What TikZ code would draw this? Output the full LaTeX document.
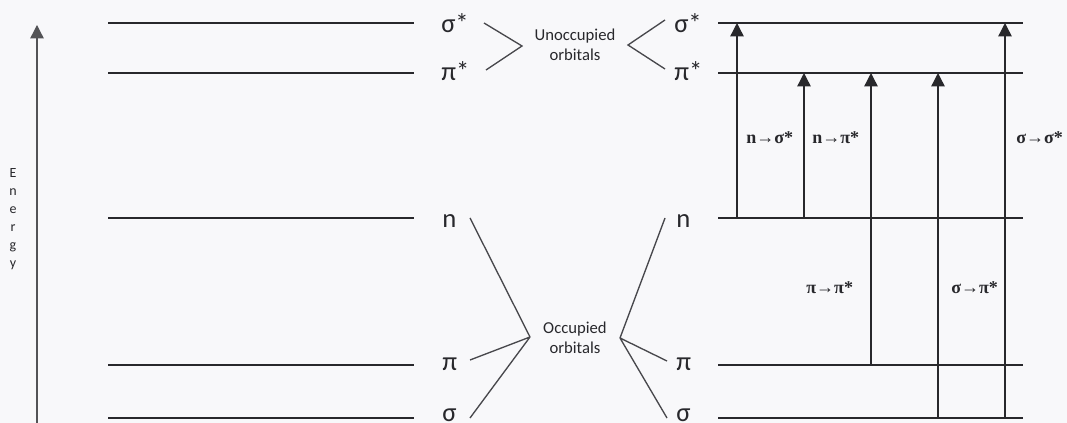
\documentclass[tikz,border=0pt]{standalone}
\usepackage{fontspec}
\setmainfont{Carlito}
\newfontfamily\trfont{Liberation Serif}
\usetikzlibrary{arrows.meta}
\definecolor{paper}{RGB}{248,248,250}
\definecolor{ink}{RGB}{40,40,44}
\begin{document}
\begin{tikzpicture}[x=0.75pt,y=-0.75pt,
  level/.style={draw=ink,line width=1.4pt},
  brace/.style={draw=ink!85,line width=1pt},
  trans/.style={draw=ink,line width=1pt,-{Triangle[length=10pt,width=10pt]}},
  axisline/.style={draw=ink!80,line width=1pt,-{Triangle[length=10pt,width=10pt]}},
  orb/.style={font=\fontsize{20}{22}\selectfont,inner sep=0pt,anchor=base west,text=ink},
  group/.style={font=\fontsize{12.5}{15}\selectfont,align=center,inner sep=0pt,text=ink},
  tlabel/.style={font=\trfont\bfseries\fontsize{13.5}{15}\selectfont,inner sep=0pt,anchor=base west,text=ink}]
\fill[paper] (0,0) rectangle (1067,423);
\useasboundingbox (0,0) rectangle (1067,423);

% energy axis
\coordinate (ax0) at (37,430);
\coordinate (ax1) at (37,25);
\draw[axisline] (ax0) -- (ax1);
\node[font=\fontsize{10.5}{13.5}\selectfont,align=center,inner sep=0pt,anchor=north,text=ink]
  (energy) at (13,168) {E\\n\\e\\r\\g\\y};

% left-hand levels
\foreach \nm/\yy in {ss/23,ps/73,n/218,p/365,s/418}{
  \coordinate (L\nm a) at (108,\yy);
  \coordinate (L\nm b) at (414,\yy);
  \draw[level] (L\nm a) -- (L\nm b);
}
% right-hand levels
\foreach \nm/\yy in {ss/23,ps/73,n/218,p/365,s/418}{
  \coordinate (R\nm a) at (718,\yy);
  \coordinate (R\nm b) at (1023,\yy);
  \draw[level] (R\nm a) -- (R\nm b);
}

% level labels
\node[orb] (lss) at (441,33) {σ*};
\node[orb] (lps) at (441,81) {π*};
\node[orb] (ln)  at (442,228) {n};
\node[orb] (lp)  at (442,371) {π};
\node[orb] (ls)  at (442,422) {σ};
\node[orb] (rss) at (674,33) {σ*};
\node[orb] (rps) at (674,81) {π*};
\node[orb] (rn)  at (676,228) {n};
\node[orb] (rp)  at (676,371) {π};
\node[orb] (rs)  at (676,422) {σ};

% group captions
\node[group] (unocc) at (575,45) {Unoccupied\\orbitals};
\node[group] (occ) at (575,338) {Occupied\\orbitals};

% unoccupied brackets
\coordinate (u1) at (484,23);
\coordinate (uv) at (522,46);
\coordinate (u2) at (486,70);
\draw[brace] (u1) -- (uv) -- (u2);
\coordinate (u3) at (665,20);
\coordinate (uw) at (628,45);
\coordinate (u4) at (665,69);
\draw[brace] (u3) -- (uw) -- (u4);

% occupied brackets
\coordinate (ov) at (530,337);
\coordinate (o1) at (470,218);
\coordinate (o2) at (470,360);
\coordinate (o3) at (470,418);
\draw[brace] (o1) -- (ov) (o2) -- (ov) (o3) -- (ov);
\coordinate (ow) at (620,338);
\coordinate (o4) at (665,218);
\coordinate (o5) at (667,361);
\coordinate (o6) at (667,418);
\draw[brace] (o4) -- (ow) (o5) -- (ow) (o6) -- (ow);

% transitions
\foreach \nm/\xx/\fy/\ty in {a/737/218/23,b/804/218/73,c/871/365/73,d/938/418/73,e/1005/418/23}{
  \coordinate (t\nm0) at (\xx,\fy);
  \coordinate (t\nm1) at (\xx,\ty);
  \draw[trans] (t\nm0) -- (t\nm1);
}

% transition labels
\node[tlabel] (tla) at (746,144) {n→σ*};
\node[tlabel] (tlb) at (812,144) {n→π*};
\node[tlabel] (tle) at (1016,144) {σ→σ*};
\node[tlabel] (tlc) at (806,294) {π→π*};
\node[tlabel] (tld) at (951,294) {σ→π*};
\end{tikzpicture}
\end{document}
